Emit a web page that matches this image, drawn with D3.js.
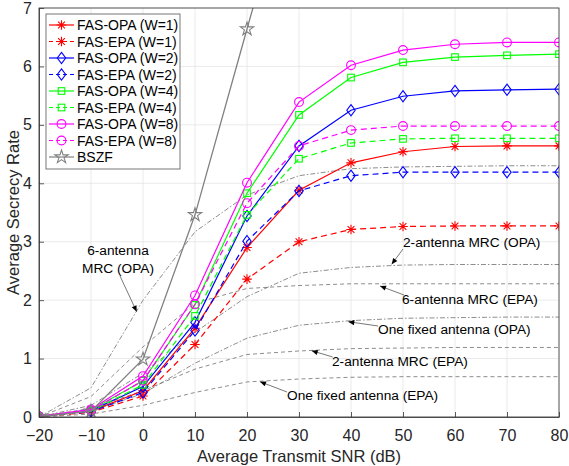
<!DOCTYPE html>
<html><head><meta charset="utf-8">
<script src="https://cdn.jsdelivr.net/npm/d3@7"></script>
<style>body{margin:0;background:#fff}svg{display:block}text{font-family:"Liberation Sans",Arial,Helvetica,sans-serif}</style>
</head><body><svg id="c" width="569" height="466"></svg>
<script>
const snr = [-20,-10,0,10,20,30,40,50,60,70,80];
const xTicks = [-20,-10,0,10,20,30,40,50,60,70,80];
const yTicks = [0,1,2,3,4,5,6,7];

const fasOpaW1 = [0.01,0.10,0.45,1.52,2.90,3.88,4.35,4.54,4.63,4.64,4.64];
const fasEpaW1 = [0.01,0.08,0.36,1.24,2.36,3.00,3.21,3.26,3.27,3.27,3.27];
const fasOpaW2 = [0.01,0.11,0.52,1.62,3.44,4.64,5.25,5.49,5.58,5.60,5.61];
const fasEpaW2 = [0.01,0.09,0.42,1.48,3.01,3.87,4.13,4.19,4.19,4.19,4.19];
const fasOpaW4 = [0.01,0.12,0.62,1.92,3.83,5.17,5.81,6.07,6.16,6.19,6.21];
const fasEpaW4 = [0.01,0.10,0.55,1.73,3.46,4.42,4.69,4.76,4.77,4.77,4.77];
const fasOpaW8 = [0.01,0.13,0.70,2.08,4.01,5.39,6.02,6.28,6.38,6.41,6.41];
const fasEpaW8 = [0.01,0.11,0.62,1.93,3.66,4.64,4.91,4.98,4.98,4.98,4.98];
const bszf     = [0.01,0.10,0.99,3.46,6.64,9.80,13.1,16.4,19.7,23.0,26.3];

const mrc6Opa   = [0.00,0.50,2.00,3.17,3.80,4.13,4.25,4.28,4.29,4.30,4.30];
const mrc6Epa   = [0.00,0.35,1.20,1.95,2.20,2.25,2.28,2.28,2.28,2.28,2.28];
const mrc2Opa   = [0.00,0.20,0.75,1.45,2.06,2.46,2.56,2.60,2.61,2.61,2.61];
const fixedOpa  = [0.00,0.10,0.40,0.92,1.35,1.57,1.65,1.69,1.70,1.71,1.71];
const mrc2Epa   = [0.00,0.15,0.45,0.82,1.07,1.13,1.17,1.18,1.19,1.19,1.19];
const fixedEpa  = [0.00,0.05,0.20,0.42,0.60,0.65,0.68,0.69,0.69,0.69,0.69];

const legendLabels = ["FAS-OPA (W=1)","FAS-EPA (W=1)","FAS-OPA (W=2)","FAS-EPA (W=2)","FAS-OPA (W=4)","FAS-EPA (W=4)","FAS-OPA (W=8)","FAS-EPA (W=8)","BSZF"];

const series = [
  {name:legendLabels[0], v:fasOpaW1, color:"#ff0000", dash:null, m:"ast"},
  {name:legendLabels[1], v:fasEpaW1, color:"#ff0000", dash:"6,4", m:"ast"},
  {name:legendLabels[2], v:fasOpaW2, color:"#0000ff", dash:null, m:"dia"},
  {name:legendLabels[3], v:fasEpaW2, color:"#0000ff", dash:"6,4", m:"dia"},
  {name:legendLabels[4], v:fasOpaW4, color:"#00ff00", dash:null, m:"sq"},
  {name:legendLabels[5], v:fasEpaW4, color:"#00ff00", dash:"6,4", m:"sq"},
  {name:legendLabels[6], v:fasOpaW8, color:"#ff00ff", dash:null, m:"cir"},
  {name:legendLabels[7], v:fasEpaW8, color:"#ff00ff", dash:"6,4", m:"cir"},
  {name:legendLabels[8], v:bszf, color:"#808080", dash:null, m:"star"}
];
const refs = [
  {v:mrc6Opa, dash:"5,2,1.5,2"},
  {v:mrc6Epa, dash:"4,3"},
  {v:mrc2Opa, dash:"5,2,1.5,2"},
  {v:fixedOpa, dash:"5,2,1.5,2"},
  {v:mrc2Epa, dash:"4,3"},
  {v:fixedEpa, dash:"4,3"}
];
const notes = [
  {lines:["6-antenna","MRC (OPA)"], x:118, y:255, anchor:"middle", from:[120,276], to:[136.7,311.7]},
  {lines:["2-antenna MRC (OPA)"], x:403, y:247, anchor:"start", from:[403,249], to:[391.7,264.3]},
  {lines:["6-antenna MRC (EPA)"], x:402, y:304, anchor:"start", from:[404,295], to:[380,286]},
  {lines:["One fixed antenna (OPA)"], x:378, y:334, anchor:"start", from:[378,326], to:[348.3,321.7]},
  {lines:["2-antenna MRC (EPA)"], x:332, y:366, anchor:"start", from:[332.7,357], to:[311.7,350.7]},
  {lines:["One fixed antenna (EPA)"], x:287, y:400, anchor:"start", from:[287,392], to:[260,381.7]}
];

const L=39, R=559, T=8, B=417;
const svg = d3.select("#c");
const x = d3.scaleLinear().domain([-20,80]).range([L,R]);
const y = d3.scaleLinear().domain([0,7]).range([B,T]);

svg.append("defs").append("clipPath").attr("id","clip").append("rect")
  .attr("x",L).attr("y",T).attr("width",R-L).attr("height",B-T);

// grid
const g = svg.append("g");
g.selectAll(".gx").data(xTicks).join("line").attr("x1",d=>x(d)).attr("x2",d=>x(d)).attr("y1",T).attr("y2",B)
  .attr("stroke","#e5e5e5").attr("stroke-width",0.8);
g.selectAll(".gy").data(yTicks).join("line").attr("y1",d=>y(d)).attr("y2",d=>y(d)).attr("x1",L).attr("x2",R)
  .attr("stroke","#e5e5e5").attr("stroke-width",0.8);

const plot = svg.append("g").attr("clip-path","url(#clip)");
const line = d3.line().x((d,i)=>x(snr[i])).y(d=>y(d));

refs.forEach(r=>{
  plot.append("path").attr("d",line(r.v)).attr("fill","none").attr("stroke","#707070")
    .attr("stroke-width",0.8).attr("stroke-dasharray",r.dash);
});

function marker(sel, m, color){
  if(m==="ast"){
    const s=4.8, a=s*0.707;
    sel.append("path").attr("d",`M${-s},0L${s},0M0,${-s}L0,${s}M${-a},${-a}L${a},${a}M${-a},${a}L${a},${-a}`)
      .attr("stroke",color).attr("stroke-width",1.1).attr("fill","none");
  } else if(m==="dia"){
    sel.append("path").attr("d","M0,-5.6L4.2,0L0,5.6L-4.2,0Z").attr("stroke",color).attr("stroke-width",1.1).attr("fill","none");
  } else if(m==="sq"){
    sel.append("rect").attr("x",-3.3).attr("y",-3.3).attr("width",6.6).attr("height",6.6).attr("stroke",color).attr("stroke-width",1.1).attr("fill","none");
  } else if(m==="cir"){
    sel.append("circle").attr("r",4.4).attr("stroke",color).attr("stroke-width",1.1).attr("fill","none");
  } else if(m==="star"){
    sel.append("path").attr("d",d3.symbol(d3.symbolStar,55)()).attr("stroke",color).attr("stroke-width",1.1).attr("fill","none");
  }
}

series.forEach(s=>{
  plot.append("path").attr("d",line(s.v)).attr("fill","none").attr("stroke",s.color)
    .attr("stroke-width",s.m==="star"?1.3:1.2).attr("stroke-dasharray",s.dash);
  s.v.forEach((v,i)=>{
    const mg = plot.append("g").attr("transform",`translate(${x(snr[i])},${y(v)})`);
    marker(mg, s.m, s.color);
  });
});

// axes box
svg.append("rect").attr("x",L).attr("y",T).attr("width",R-L).attr("height",B-T)
  .attr("fill","none").attr("stroke","#333").attr("stroke-width",0.8);
const ax = svg.append("g").attr("transform",`translate(0,${B})`)
  .call(d3.axisBottom(x).tickValues(xTicks).tickSizeInner(-5).tickSizeOuter(0).tickPadding(13).tickFormat(d3.format("d")));
const ay = svg.append("g").attr("transform",`translate(${L},0)`)
  .call(d3.axisLeft(y).tickValues(yTicks).tickSizeInner(-5).tickSizeOuter(0).tickPadding(7).tickFormat(d3.format("d")));
[ax,ay].forEach(a=>{
  a.select(".domain").attr("stroke","#333").attr("stroke-width",0.8);
  a.selectAll(".tick line").attr("stroke","#333").attr("stroke-width",0.8);
  a.selectAll(".tick text").attr("fill","#262626").style("font-size","16px").style("font-family","'Liberation Sans',Arial,sans-serif");
});
ax.selectAll(".tick text").attr("dy","0.71em");

svg.append("text").attr("x",(L+R)/2).attr("y",462).attr("text-anchor","middle")
  .style("font-size","16.5px").attr("fill","#262626").text("Average Transmit SNR (dB)");
svg.append("text").attr("transform",`translate(19,${(T+B)/2}) rotate(-90)`).attr("text-anchor","middle")
  .style("font-size","16.5px").attr("fill","#262626").text("Average Secrecy Rate");

// annotations
notes.forEach(n=>{
  const t = svg.append("text").attr("x",n.x).attr("y",n.y).attr("text-anchor",n.anchor).style("font-size","13.7px").attr("fill","#000");
  n.lines.forEach((l,i)=>t.append("tspan").attr("x",n.x).attr("dy",i?17.5:0).text(l));
  const [x0,y0]=n.from,[x1,y1]=n.to;
  svg.append("line").attr("x1",x0).attr("y1",y0).attr("x2",x1).attr("y2",y1).attr("stroke","#555").attr("stroke-width",0.8);
  const ang=Math.atan2(y1-y0,x1-x0), len=6, w=2.6;
  const bx=x1-len*Math.cos(ang), by=y1-len*Math.sin(ang);
  const px=-Math.sin(ang)*w, py=Math.cos(ang)*w;
  svg.append("path").attr("d",`M${x1},${y1}L${bx+px},${by+py}L${bx-px},${by-py}Z`).attr("fill","#000");
});

// legend
const lg = svg.append("g");
lg.append("rect").attr("x",46).attr("y",14).attr("width",134).attr("height",155)
  .attr("fill","#fff").attr("stroke","#555").attr("stroke-width",0.8);
series.forEach((s,i)=>{
  const yy = 25 + i*16.5;
  lg.append("line").attr("x1",49).attr("x2",74).attr("y1",yy).attr("y2",yy).attr("stroke",s.color)
    .attr("stroke-width",1.2).attr("stroke-dasharray",s.dash?"4,3":null);
  const mg = lg.append("g").attr("transform",`translate(61.5,${yy})`);
  marker(mg, s.m, s.color);
  lg.append("text").attr("x",77).attr("y",yy+5).style("font-size","14px").attr("fill","#000").text(s.name);
});
</script></body></html>
